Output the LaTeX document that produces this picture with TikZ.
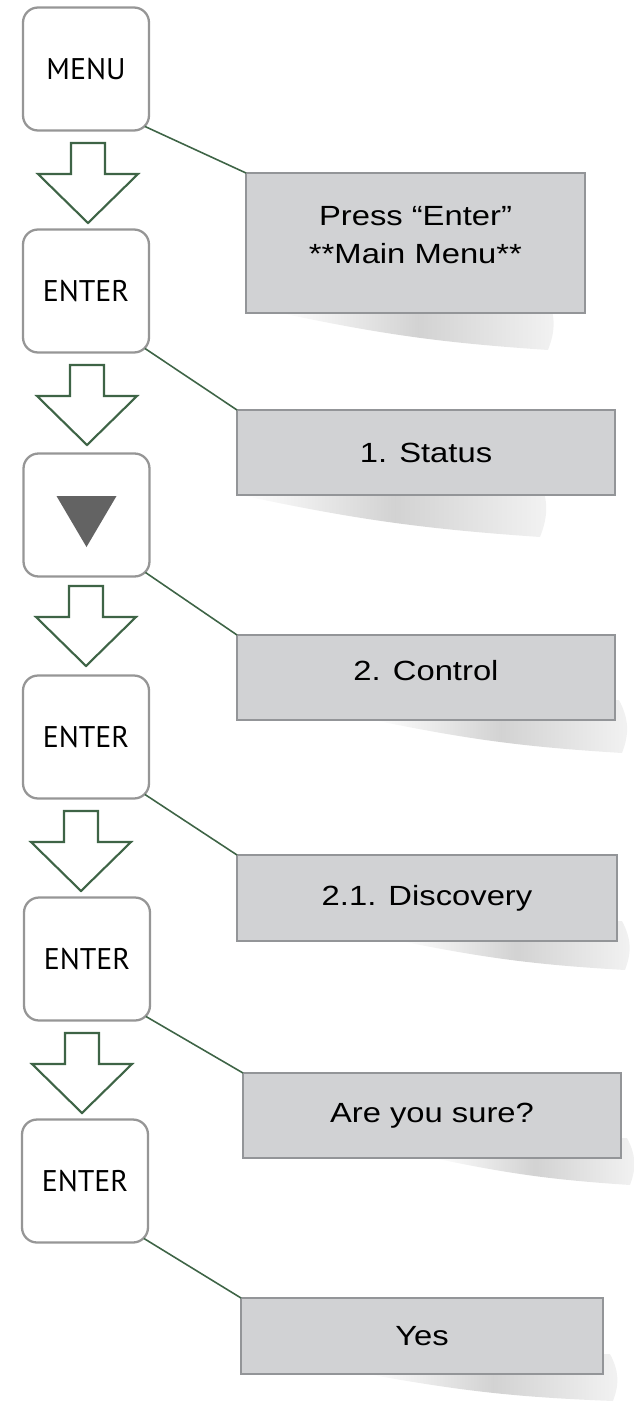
\documentclass[tikz,border=0pt]{standalone}
\usepackage{fontspec}
\setmainfont{Liberation Sans}
\newfontfamily\keyfont{PT Sans}
\newfontfamily\lcdfont[FakeStretch=1.18]{Liberation Sans}
\usetikzlibrary{calc,backgrounds}
\definecolor{keyline}{RGB}{150,150,150}
\definecolor{lcdfill}{RGB}{209,210,212}
\definecolor{lcdline}{RGB}{147,149,152}
\definecolor{leafgreen}{RGB}{62,100,70}
\definecolor{arrowgray}{RGB}{99,99,99}
\newcommand{\liftup}[2]{\raisebox{#1}[\height][\depth]{\begin{tabular}{@{}c@{}}#2\end{tabular}}}

\begin{document}
\begin{tikzpicture}[
        x=0.02cm, y=-0.02cm,
        key/.style={rectangle, draw=keyline, line width=1.3pt, rounded corners=0.3cm, fill=white, minimum width=2.52cm, minimum height=2.46cm, inner sep=0pt, outer sep=0pt, font=\keyfont\fontsize{17}{20}\selectfont},
        lcd/.style={rectangle, draw=lcdline, line width=1.4pt, fill=lcdfill, inner sep=0pt, outer sep=0pt, align=center, font=\lcdfont\fontsize{15.8}{21.5}\selectfont},
        link/.style={draw=leafgreen, line width=0.9pt},
        curl/.style={left color=white, right color=gray!10, middle color=gray!35},
        pics/downarrow/.style={code={\draw[leafgreen, line width=1.2pt, fill=white, line join=miter] (-17,-40) -- (17,-40) -- (17,-9) -- (50,-9) -- (0,40) -- (-50,-9) -- (-17,-9) -- cycle;}}
    ]
        \useasboundingbox (0,0) rectangle (635,1403);

        % Keys
        \node[key] (btn1) at (86,69) {MENU};
        \node[key] (btn2) at (86,291) {ENTER};
        \node[key] (btn3) at (86.5,515) {};
        \node[key] (btn4) at (86,737) {ENTER};
        \node[key] (btn5) at (87,959) {ENTER};
        \node[key] (btn6) at (85,1181) {ENTER};
        \fill[arrowgray] ($(btn3.center)+(-30,-19)$) -- ($(btn3.center)+(30,-19)$) -- ($(btn3.center)+(0,32)$) -- cycle;

        % Arrows between keys
        \foreach \x/\y in {88/183, 87/405, 86/626, 81/851, 82/1073}
            \pic at (\x,\y) {downarrow};

        % Display screens
        \node[lcd, minimum width=6.78cm, minimum height=2.8cm] (lcd1) at (415.5,243) {\liftup{3.4pt}{Press “Enter”\\{}**Main Menu**}};
        \node[lcd, minimum width=7.56cm, minimum height=1.7cm] (lcd2) at (426,452.5) {1. Status};
        \node[lcd, minimum width=7.56cm, minimum height=1.7cm] (lcd3) at (426,677.5) {\liftup{2.5pt}{2. Control}};
        \node[lcd, minimum width=7.6cm, minimum height=1.72cm] (lcd4) at (427,898) {2.1. Discovery};
        \node[lcd, minimum width=7.56cm, minimum height=1.7cm] (lcd5) at (432,1115.5) {Are you sure?};
        \node[lcd, minimum width=7.24cm, minimum height=1.52cm] (lcd6) at (422,1336) {Yes};

        % Shadows under screens
        \begin{scope}[on background layer]
            \foreach \i/\sx/\ex/\d in {1/34/-37/37, 2/3/-75/42, 3/136/7/33, 4/163/8/29, 5/190/9/27, 6/126/10/27}
                \path[curl] ($(lcd\i.south west)+(\sx,0)$) to[bend right=4] ($(lcd\i.south east)+(\ex,\d)$) to[bend right=25] ($(lcd\i.south east)+(\ex-3,-20)$) -- ($(lcd\i.south west)+(\sx,-20)$) -- cycle;
        \end{scope}

        % Links from keys to screens
        \foreach \i in {1,...,6}
            \draw[link] ([shift={(-4,-4)}]btn\i.south east) -- (lcd\i.north west);
    \end{tikzpicture}
\end{document}
